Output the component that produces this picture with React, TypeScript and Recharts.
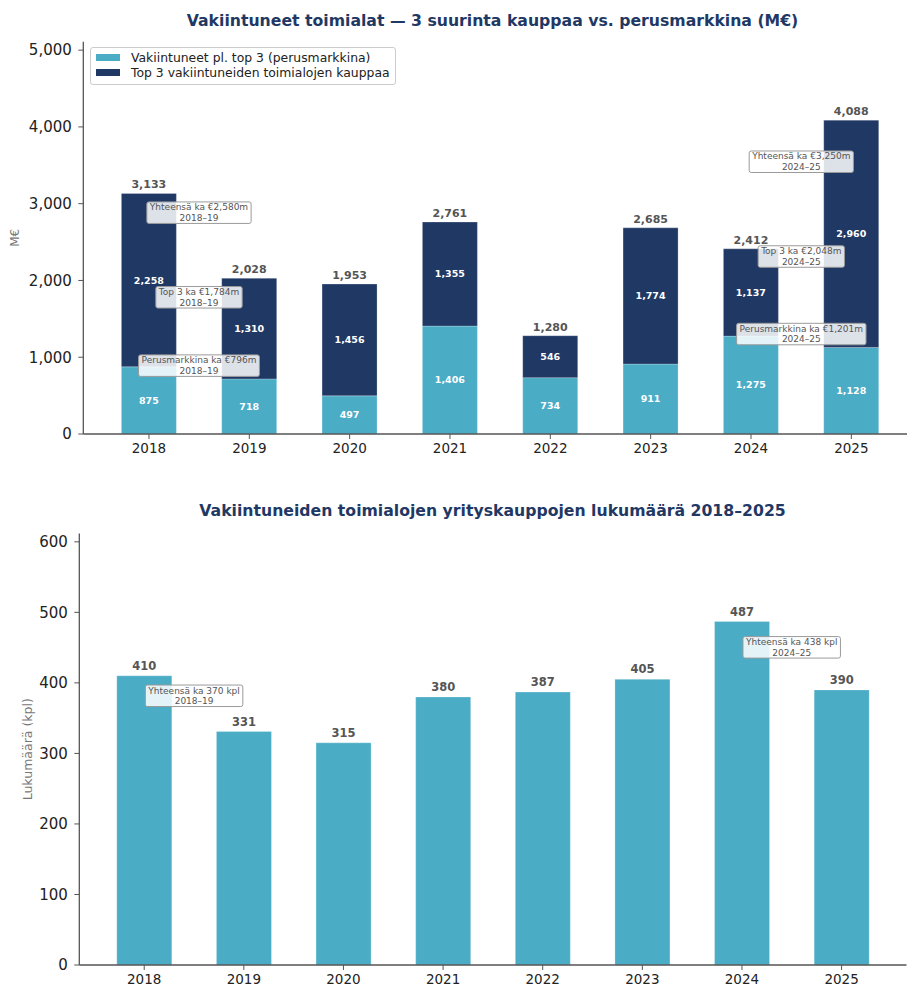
import React from 'react';
import { BarChart, Bar, XAxis, YAxis, LabelList, ReferenceDot, Legend } from 'recharts';

const years = ['2018', '2019', '2020', '2021', '2022', '2023', '2024', '2025'];
const baseMarket = [875, 718, 497, 1406, 734, 911, 1275, 1128];
const top3Deals = [2258, 1310, 1456, 1355, 546, 1774, 1137, 2960];
const dealCounts = [410, 331, 315, 380, 387, 405, 487, 390];
const valueTicks = [0, 1000, 2000, 3000, 4000, 5000];
const countTicks = [0, 100, 200, 300, 400, 500, 600];
const seriesNames = ['Vakiintuneet pl. top 3 (perusmarkkina)', 'Top 3 vakiintuneiden toimialojen kauppaa'];

const valueAnnotations = [
  { at: 0.5, value: 2580, text: 'Yhteensä ka €2,580m', period: '2018–19', shift: -23.5 },
  { at: 0.5, value: 1784, text: 'Top 3 ka €1,784m', period: '2018–19', shift: 0 },
  { at: 0.5, value: 796, text: 'Perusmarkkina ka €796m', period: '2018–19', shift: -7.5 },
  { at: 6.5, value: 3250, text: 'Yhteensä ka €3,250m', period: '2024–25', shift: -23 },
  { at: 6.5, value: 2048, text: 'Top 3 ka €2,048m', period: '2024–25', shift: -20.5 },
  { at: 6.5, value: 1201, text: 'Perusmarkkina ka €1,201m', period: '2024–25', shift: -8 },
];
const countAnnotations = [
  { at: 0.5, value: 370, text: 'Yhteensä ka 370 kpl', period: '2018–19', shift: -8.5 },
  { at: 6.5, value: 438, text: 'Yhteensä ka 438 kpl', period: '2024–25', shift: -9 },
];

const LIGHT = '#4BACC6';
const NAVY = '#1F3864';
const FONT = '"DejaVu Sans", Verdana, sans-serif';

const valueData = years.map((y, i) => ({
  year: y,
  idx: i,
  base: baseMarket[i],
  top3: top3Deals[i],
  total: baseMarket[i] + top3Deals[i],
}));
const countData = years.map((y, i) => ({ year: y, idx: i, count: dealCounts[i] }));

const fmt = (v: any) => Number(v).toLocaleString('en-US');

let ctx: CanvasRenderingContext2D | null = null;
function measure(text: string, font: string) {
  if (!ctx) ctx = document.createElement('canvas').getContext('2d');
  if (!ctx) return text.length * 5.3;
  ctx.font = font;
  return ctx.measureText(text).width;
}

const makeAnnotation = (text: string, period: string, shift: number) => (props: any) => {
  const { cx, cy } = props;
  if (cx == null || cy == null) return null;
  const fs = 9;
  const w = Math.max(measure(text, `${fs}px "DejaVu Sans"`), measure(period, `${fs}px "DejaVu Sans"`)) + 6;
  const yc = cy + shift;
  return (
    <g>
      <rect x={cx - w / 2} y={yc - 10.5} width={w} height={21.5} rx={2} ry={2} fill="#fff" fillOpacity={0.85} stroke="#9a9a9a" strokeWidth={1} />
      <text x={cx} y={yc - 2} textAnchor="middle" fontSize={fs} fill="#555" fontFamily={FONT}>{text}</text>
      <text x={cx} y={yc + 8.5} textAnchor="middle" fontSize={fs} fill="#555" fontFamily={FONT}>{period}</text>
    </g>
  );
};

const LegendBox = (props: any) => {
  const items = [...(props.payload || [])].sort(
    (a: any, b: any) => seriesNames.indexOf(a.value) - seriesNames.indexOf(b.value)
  );
  return (
    <div style={{ border: '1px solid #ccc', borderRadius: 3, background: 'rgba(255,255,255,0.85)', padding: '2px 5px 3px 5px', fontFamily: FONT, fontSize: 12.4, color: '#222' }}>
      {items.map((it: any) => (
        <div key={it.value} style={{ display: 'flex', alignItems: 'center', height: 15.3 }}>
          <span style={{ display: 'inline-block', width: 24, height: 7, background: it.color, marginRight: 11 }} />
          <span style={{ whiteSpace: 'nowrap' }}>{it.value}</span>
        </div>
      ))}
    </div>
  );
};

const axisLine = { stroke: '#555', strokeWidth: 1.3 };
const tickLine = { stroke: '#555', strokeWidth: 1 };

const yLabel = (text: string, dist: number, fontSize: number) => (props: any) => {
  const vb = props.viewBox || {};
  const x = vb.x + vb.width - dist;
  const y = vb.y + vb.height / 2;
  return (
    <text x={x} y={y} transform={`rotate(-90, ${x}, ${y})`} textAnchor="middle" dominantBaseline="central" fontSize={fontSize} fill="#777" fontFamily={FONT}>
      {text}
    </text>
  );
};

export default function App() {
  return (
    <div style={{ position: 'fixed', left: 0, top: 0, width: 907, height: 984, overflow: 'hidden', background: '#fff' }}>
      <div style={{ position: 'absolute', left: 0, top: 10.5, width: 985, textAlign: 'center', fontFamily: FONT, fontWeight: 'bold', fontSize: 15.7, color: NAVY, lineHeight: '20px', whiteSpace: 'nowrap' }}>
        Vakiintuneet toimialat — 3 suurinta kauppaa vs. perusmarkkina (M€)
      </div>
      <div style={{ position: 'absolute', left: 0, top: 0 }}>
        <BarChart width={917} height={478} data={valueData} margin={{ top: 41.7, right: 0, bottom: 0, left: 0 }} barCategoryGap="22.5%" style={{ fontFamily: FONT }}>
          <XAxis dataKey="year" height={44} padding={{ left: 15.5, right: 15.5 }} tick={{ fontSize: 13.5, fill: '#222' }} tickSize={5} tickMargin={4} axisLine={axisLine} tickLine={tickLine} interval={0} />
          <XAxis xAxisId="num" dataKey="idx" type="number" domain={[-0.6525, 7.6525]} allowDataOverflow hide />
          <YAxis width={83.3} domain={[0, 5110]} ticks={valueTicks} tickFormatter={fmt} tick={{ fontSize: 15, fill: '#222' }} tickSize={5} tickMargin={6.5} axisLine={axisLine} tickLine={tickLine} allowDataOverflow label={{ content: yLabel('M€', 68, 12) }} />
          <Legend layout="horizontal" verticalAlign="middle" align="center" wrapperStyle={{ left: 90, top: 47, width: 'auto' }} content={<LegendBox />} />
          <Bar dataKey="base" name={seriesNames[0]} stackId="a" fill={LIGHT} stroke="#fff" strokeOpacity={0.4} strokeWidth={0.6} isAnimationActive={false}>
            <LabelList dataKey="base" position="center" formatter={fmt} fill="#fff" fontSize={9.5} fontWeight="bold" fontFamily={FONT} />
          </Bar>
          <Bar dataKey="top3" name={seriesNames[1]} stackId="a" fill={NAVY} stroke="#fff" strokeOpacity={0.4} strokeWidth={0.6} isAnimationActive={false}>
            <LabelList dataKey="top3" position="center" formatter={fmt} fill="#fff" fontSize={9.5} fontWeight="bold" fontFamily={FONT} />
            <LabelList dataKey="total" position="top" offset={5} formatter={fmt} fill="#555" fontSize={11} fontWeight="bold" fontFamily={FONT} />
          </Bar>
          {valueAnnotations.map((a) => (
            <ReferenceDot key={a.text} xAxisId="num" x={a.at} y={a.value} r={0} shape={makeAnnotation(a.text, a.period, a.shift)} />
          ))}
        </BarChart>
      </div>
      <div style={{ position: 'absolute', left: 0, top: 500.5, width: 985, textAlign: 'center', fontFamily: FONT, fontWeight: 'bold', fontSize: 15.7, color: NAVY, lineHeight: '20px', whiteSpace: 'nowrap' }}>
        Vakiintuneiden toimialojen yrityskauppojen lukumäärä 2018–2025
      </div>
      <div style={{ position: 'absolute', left: 0, top: 478 }}>
        <BarChart width={906.5} height={530} data={countData} margin={{ top: 55.5, right: 0, bottom: 0, left: 0 }} barCategoryGap="22.5%" style={{ fontFamily: FONT }}>
          <XAxis dataKey="year" height={43} padding={{ left: 15.1, right: 15.1 }} tick={{ fontSize: 13.5, fill: '#222' }} tickSize={5} tickMargin={4} axisLine={axisLine} tickLine={tickLine} interval={0} />
          <XAxis xAxisId="num" dataKey="idx" type="number" domain={[-0.6525, 7.6525]} allowDataOverflow hide />
          <YAxis width={79.3} domain={[0, 611.8]} ticks={countTicks} tick={{ fontSize: 15, fill: '#222' }} tickSize={5} tickMargin={6.5} axisLine={axisLine} tickLine={tickLine} allowDataOverflow label={{ content: yLabel('Lukumäärä (kpl)', 52, 12.5) }} />
          <Bar dataKey="count" fill={LIGHT} stroke="#fff" strokeOpacity={0.4} strokeWidth={0.6} isAnimationActive={false}>
            <LabelList dataKey="count" position="top" offset={6} fill="#555" fontSize={11.5} fontWeight="bold" fontFamily={FONT} />
          </Bar>
          {countAnnotations.map((a) => (
            <ReferenceDot key={a.text} xAxisId="num" x={a.at} y={a.value} r={0} shape={makeAnnotation(a.text, a.period, a.shift)} />
          ))}
        </BarChart>
      </div>
    </div>
  );
}
